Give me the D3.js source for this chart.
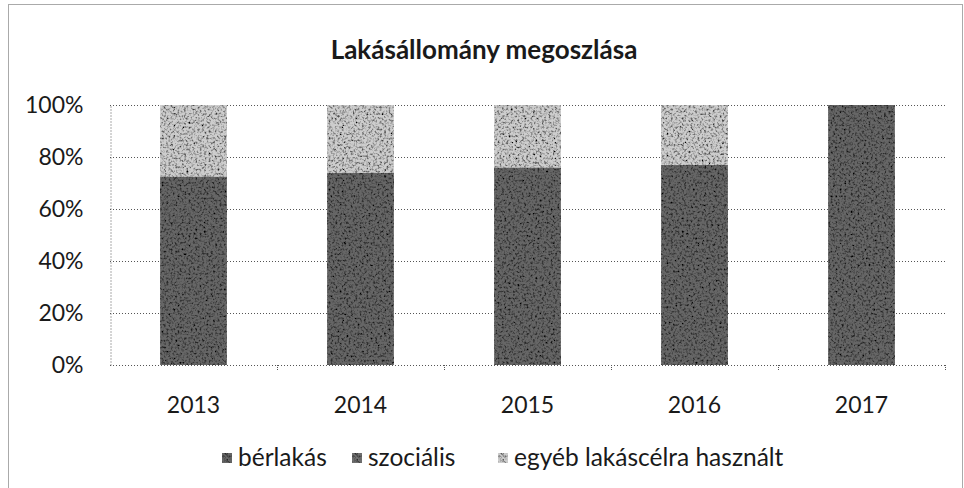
<!DOCTYPE html>
<html>
<head>
<meta charset="utf-8">
<script src="https://cdn.jsdelivr.net/npm/d3@7"></script>
<style>
  body { margin: 0; background: #fff; }
  text { font-family: Lato, "Open Sans", sans-serif; fill: #1a1a1a; }
</style>
</head>
<body>
<script>
"use strict";

// years on the x axis
const years = ["2013", "2014", "2015", "2016", "2017"];
// share of each kind, percent
const berlakas = [72.5, 74, 76, 77, 100];
const szocialis = [0, 0, 0, 0, 0];
const egyeb = [27.5, 26, 24, 23, 0];
const seriesNames = ["bérlakás", "szociális", "egyéb lakáscélra használt"];
const yTicks = [0, 20, 40, 60, 80, 100];

(function(){
    const measurements = {
        width: 964,
        height: 488,
        left: 110,
        right: 945,
        top: 105,
        bottom: 365
    }
    const colors = ["#666", "#707070", "#cdcdcd"];

    const svg = d3.select("body").append("svg")
        .attr("width", measurements.width)
        .attr("height", measurements.height);

    // noisy texture, like the scanned print
    const defs = svg.append("defs");
    const filt = defs.append("filter").attr("id", "grain")
        .attr("x", 0).attr("y", 0).attr("width", 1).attr("height", 1);
    filt.append("feTurbulence").attr("type", "fractalNoise")
        .attr("baseFrequency", 0.45).attr("numOctaves", 2).attr("seed", 3).attr("result", "n");
    filt.append("feColorMatrix").attr("in", "n").attr("type", "matrix")
        .attr("values", "0 0 0 0 0  0 0 0 0 0  0 0 0 0 0  0 0 0 -2.6 1.45").attr("result", "m");
    filt.append("feComposite").attr("in", "m").attr("in2", "SourceGraphic").attr("operator", "in").attr("result", "d");
    const merge = filt.append("feMerge");
    merge.append("feMergeNode").attr("in", "SourceGraphic");
    merge.append("feMergeNode").attr("in", "d");

    // outer frame
    svg.append("rect")
        .attr("x", 8.5).attr("y", 4.5)
        .attr("width", 954).attr("height", 490)
        .attr("fill", "none")
        .attr("stroke", "#555")
        .attr("stroke-dasharray", "1 1");

    svg.append("text")
        .attr("x", 484).attr("y", 59)
        .attr("text-anchor", "middle")
        .style("font-size", "26px")
        .style("font-weight", "bold")
        .text("Lakásállomány megoszlása");

    const data = years.map((y, i) => ({year: y, s0: berlakas[i], s1: szocialis[i], s2: egyeb[i]}));
    const stacked = d3.stack().keys(["s0", "s1", "s2"])(data);

    const scaleX = d3.scaleBand()
        .domain(years)
        .range([measurements.left, measurements.right])
        .paddingInner(0.6)
        .paddingOuter(0.3);

    const scaleY = d3.scaleLinear()
        .domain([0, 100])
        .range([measurements.bottom, measurements.top]);

    // gridlines
    svg.append("g")
        .selectAll("line")
        .data(yTicks)
        .enter()
        .append("line")
        .attr("x1", measurements.left)
        .attr("x2", measurements.right + 2)
        .attr("y1", d => Math.round(scaleY(d)) + 0.5)
        .attr("y2", d => Math.round(scaleY(d)) + 0.5)
        .attr("stroke", "#555")
        .attr("stroke-dasharray", "1 2");

    // y axis
    const yAxis = d3.axisLeft(scaleY)
        .tickValues(yTicks)
        .tickSize(0)
        .tickPadding(27)
        .tickFormat(d => d + "%");
    const gy = svg.append("g")
        .attr("transform", `translate(${measurements.left + 0.5},0)`)
        .call(yAxis);
    gy.select(".domain").attr("stroke", "#555").attr("stroke-dasharray", "1 2");
    gy.selectAll("text").style("font-size", "23px").style("font-family", "Lato, sans-serif").attr("fill", "#1a1a1a");

    // x axis ticks at band edges
    const step = scaleX.step();
    const edges = d3.range(years.length + 1).map(i => measurements.left + i * step);
    svg.append("g")
        .selectAll("line")
        .data(edges.slice(1))
        .enter()
        .append("line")
        .attr("x1", d => Math.round(d) + 0.5)
        .attr("x2", d => Math.round(d) + 0.5)
        .attr("y1", measurements.bottom)
        .attr("y2", measurements.bottom + 6)
        .attr("stroke", "#555")
        .attr("stroke-dasharray", "1 1");

    svg.append("g")
        .selectAll("text")
        .data(years)
        .enter()
        .append("text")
        .attr("x", d => scaleX(d) + scaleX.bandwidth() / 2)
        .attr("y", 413)
        .attr("text-anchor", "middle")
        .style("font-size", "23px")
        .text(d => d);

    // bars
    svg.append("g")
        .selectAll("g")
        .data(stacked)
        .enter()
        .append("g")
        .attr("fill", (d, i) => colors[i])
        .attr("filter", "url(#grain)")
        .selectAll("rect")
        .data(d => d)
        .enter()
        .append("rect")
        .attr("x", d => scaleX(d.data.year))
        .attr("width", scaleX.bandwidth())
        .attr("y", d => scaleY(d[1]))
        .attr("height", d => scaleY(d[0]) - scaleY(d[1]));

    // legend
    const legendX = [222, 352, 498];
    const legend = svg.append("g")
        .selectAll("g")
        .data(seriesNames)
        .enter()
        .append("g")
        .attr("transform", (d, i) => `translate(${legendX[i]},458)`);
    legend.append("rect")
        .attr("x", 0).attr("y", -5)
        .attr("width", 10).attr("height", 10)
        .attr("fill", (d, i) => colors[i])
        .attr("filter", "url(#grain)");
    legend.append("text")
        .attr("x", 16).attr("y", 8)
        .style("font-size", "24.5px")
        .text(d => d);
})()
</script>
</body>
</html>
